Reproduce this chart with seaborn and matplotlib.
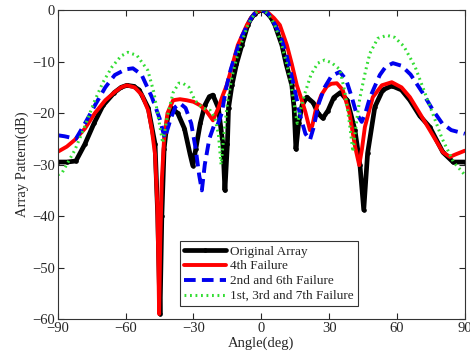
import numpy as np
import pandas as pd
import matplotlib
matplotlib.use("Agg")
import matplotlib.pyplot as plt
import seaborn as sns

# ---- data (angle in deg, pattern in dB) ----
orig_ang = [-90, -86, -82, -78, -74, -70, -65, -62, -59.5, -56.5, -54, -50, -47, -45.8, -44.8, -44, -43, -41.5,
            -39.6, -37, -34, -31.5, -30.3, -29, -27, -25, -23, -21.4, -19, -17, -16.1, -15, -14.5, -13,
            -11, -8.6, -6, -4.5, -3, -1.5, 0, 1.5, 3, 4.5, 6, 9.1, 11, 13.5, 14.5, 15.3, 16.5, 18, 20.1, 23, 25, 27.2,
            29.5, 32, 35, 38, 41.4, 43.6, 45.3, 47, 50.2, 53.7, 57.7, 62, 65.7, 70, 74.5, 80.3,
            84.8, 90]
orig_db = [-29.5, -29.5, -29.3, -26, -22, -18.5, -16, -15, -14.6, -14.8, -15.5, -19, -26, -40, -59, -40, -27, -21,
           -19.1, -20, -23, -28, -30.2, -27, -22, -18.5, -16.8, -16.5, -19, -26, -35, -26, -19, -14.6,
           -10.5, -6.8, -2.9, -1.6, -0.8, -0.2, 0, -0.2, -0.8, -1.6, -2.9, -6.8, -10.5, -14.6, -19, -27, -22, -18.5, -16.9, -18, -20, -21,
           -19.5, -17, -16, -17.5, -23.3, -30, -38.8, -27.8, -18.8, -15.5, -14.7, -15.5, -17.5, -20.5, -22.7, -27.6,
           -29.5, -29.5]

f4_ang = [-90, -86, -82.5, -78, -73.6, -69, -64.8, -62, -59.5, -56, -52.8, -50, -48.4, -47, -46, -45.5, -45.2,
          -44.7, -44, -43, -41.5, -39, -36, -33, -30, -27, -24, -21.4, -19, -17, -15.3, -13, -10.4,
          -6.4, -4.5, -3, -1.5, 0, 1.5, 3, 5.5, 8.2, 11.3, 13.5, 15.7, 17.9, 19.5, 21.5, 22.5, 24, 26.5, 29, 31, 33.4, 36,
          39, 41.5, 43.3, 44.5, 45.8, 49.3, 53.3, 57.7, 62, 65.7, 70, 74.5, 80.3, 83.4, 86, 90]
f4_db = [-27.5, -26.5, -25.2, -23, -20, -17.5, -15.9, -15, -14.6, -15, -16.5, -19.5, -23.3, -28, -38, -50, -59,
         -45, -33, -25, -20, -17.5, -17.3, -17.5, -17.8, -18.5, -19.8, -21.4, -19, -16.5, -14.6, -11, -6.8,
         -2.9, -1.5, -0.7, -0.2, 0, -0.1, -0.5, -1.5, -2.9, -6.8, -10.5, -14.6, -17.5, -19.8, -23.3, -22.5, -19.5, -16.5, -14.8, -14.3, -14.2, -15.5,
         -20, -26.6, -30.1, -27, -22.7, -16.9, -14.6, -14.0, -15, -16.9, -20, -23.3, -27.6, -28.5, -28, -27.3]

f26_ang = [-90, -87, -82, -78, -73.6, -69, -64.8, -60, -56.8, -53, -48.4, -45, -42.7, -40, -38, -36,
           -33.5, -31, -29, -27.5, -26.3, -25, -23, -21, -19.7, -17.5, -15.5, -13.5, -11, -8.5, -6, -4.5, -3, -1.5,
           0, 1.5, 3, 4.5, 6, 8.5, 11, 13.5, 15.5, 17.5, 19.5, 21.5, 23, 25.5, 28, 31, 34.7, 37.5, 40, 42, 44.4,
           46, 48, 52.4, 55, 58.2, 62, 66, 71.4, 76, 80, 84, 90]
f26_db = [-24.3, -24.5, -25, -22, -18.5, -15, -12.6, -11.5, -11.3, -12.5, -16.9, -21, -24.9, -21, -18.8, -18.1,
          -19, -22, -27, -32, -35, -30, -25, -22.5, -22.7, -20, -15, -11.5, -8, -5, -2.8, -1.6, -0.7, -0.2,
          0, -0.2, -0.7, -1.6, -2.8, -5, -8.5, -13, -17, -21, -24, -25.2, -23, -18, -15, -12.8, -12, -13.5, -16.9, -20, -21.7,
          -20, -17, -12.6, -11, -10.3, -10.8, -12.5, -16.1, -19.5, -22, -23.3, -24]

f137_ang = [-90, -88, -82.5, -78, -73.6, -70, -66, -62, -59, -55, -50.2, -47.5, -45.5, -43.6, -41.5, -39,
            -36.5, -34.7, -32, -29.4, -26, -22.5, -20.5, -19, -17.8, -16.5, -15, -13, -11, -8.5, -6, -4.5, -3, -1.5,
            0, 1.5, 3, 4.5, 6, 8.5, 11, 13, 14.8, 15.9, 17, 19, 22, 25, 28, 31, 34.7, 37, 39, 40.5, 42, 43.6,
            46, 48, 51.5, 55.5, 59, 63, 68, 74, 80, 85, 90]
f137_db = [-32, -31.5, -27.2, -22.5, -17.5, -14, -11, -8.9, -8.2, -8.8, -11.7, -16, -21, -25.8, -20.5, -16,
           -14.2, -14.2, -15, -17.5, -19, -19.5, -21, -24, -30, -24, -18, -13, -9.5, -6, -3, -1.7, -0.8, -0.2,
           0, -0.2, -0.8, -1.7, -3, -6, -10, -14, -19, -22, -20, -16.5, -12.5, -10.3, -9.7, -10.2, -11.5, -16, -22, -27.5, -22, -17,
           -12, -8.4, -5.5, -4.9, -5.3, -7, -11, -18, -25, -29.5, -32]

labels = ["Original Array", "4th Failure", "2nd and 6th Failure", "1st, 3rd and 7th Failure"]
x_ticks = [-90, -60, -30, 0, 30, 60, 90]
y_ticks = [-60, -50, -40, -30, -20, -10, 0]

sns.set_style("ticks")
plt.rcParams["font.family"] = ["Liberation Serif", "DejaVu Serif"]
plt.rcParams["xtick.direction"] = "in"
plt.rcParams["ytick.direction"] = "in"

fig = plt.figure(figsize=(4.70, 3.61), dpi=100)
ax = fig.add_axes([0.123, 0.116, 0.866, 0.856])

series = [
    (orig_ang, orig_db, dict(color="black", lw=3.4, ls="-", marker=".", markersize=5,
                             markerfacecolor="black", markeredgecolor="black")),
    (f4_ang, f4_db, dict(color="#ff0000", lw=2.8, ls="-")),
    (f26_ang, f26_db, dict(color="#0000ee", lw=2.8, ls=(0, (3, 1.6)))),
    (f137_ang, f137_db, dict(color="#33dd33", lw=2.2, ls=(0, (0.6, 1.2)))),
]
for (a, d, st), lab in zip(series, labels):
    df = pd.DataFrame({"ang": a, "db": d})
    sns.lineplot(data=df, x="ang", y="db", ax=ax, sort=False, estimator=None,
                 label=lab, **st)

ax.set_xlim(-90, 90)
ax.set_ylim(-60, 0)
ax.set_xticks(x_ticks)
ax.set_yticks(y_ticks)
ax.tick_params(labelsize=10.5, length=4, width=0.8, top=True, right=True, pad=2)
ax.set_xlabel("Angle(deg)", fontsize=10.5, labelpad=1)
ax.set_ylabel("Array Pattern(dB)", fontsize=10.5, labelpad=2)
for s in ax.spines.values():
    s.set_linewidth(0.8)
    s.set_color("#333333")

leg = ax.legend(loc="lower left", bbox_to_anchor=(0.30, 0.042), borderaxespad=0,
                fontsize=9.5, frameon=True, fancybox=False, handlelength=3.2,
                handletextpad=0.3, labelspacing=0.2, borderpad=0.3)
leg.get_frame().set_edgecolor("black")
leg.get_frame().set_linewidth(0.8)

fig.savefig("out.png", dpi=100)
